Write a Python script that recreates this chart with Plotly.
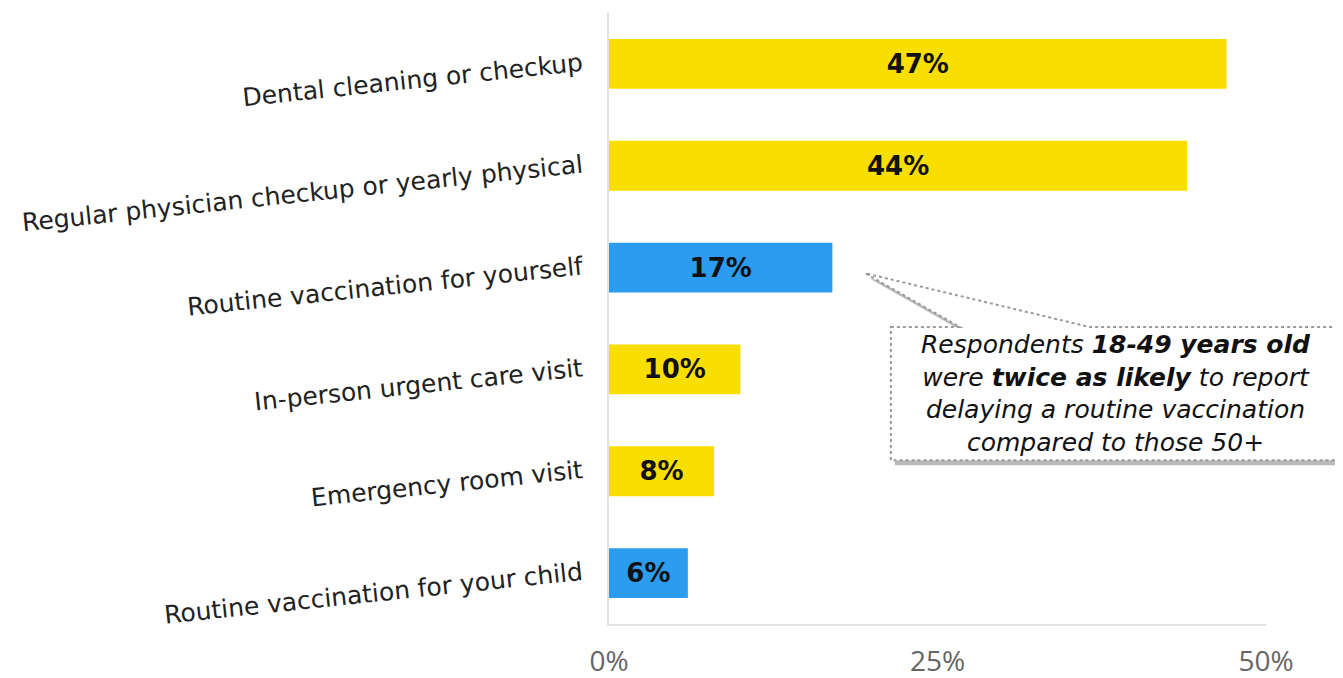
import plotly.graph_objects as go

# categories, top to bottom
categories = ['Dental cleaning or checkup',
              'Regular physician checkup or yearly physical',
              'Routine vaccination for yourself',
              'In-person urgent care visit',
              'Emergency room visit',
              'Routine vaccination for your child']
values = [47, 44, 17, 10, 8, 6]
is_vaccine = [False, False, True, False, False, True]
x_ticks = [0, 25, 50]

YELLOW = '#F9DF00'
BLUE = '#2B9CF0'
FONT = 'DejaVu Sans'

fig = go.Figure()
fig.add_trace(go.Bar(
    y=categories,
    x=values,
    orientation='h',
    marker=dict(color=[BLUE if v else YELLOW for v in is_vaccine], line=dict(width=0)),
    text=[f'<b>{v}%</b>' for v in values],
    textposition='inside',
    insidetextanchor='middle',
    textfont=dict(family=FONT, size=26, color='#111111'),
    width=0.49,
    hoverinfo='skip',
))

# callout box with shadow (paper coords)
tip = (0.39, 0.574)
bx0, bx1, by0, by1 = 0.429, 1.113, 0.268, 0.486
c0, c1 = 0.534, 0.732
dx, dy = 0.006, -0.008

def callout_path(ox=0.0, oy=0.0):
    pts = [(bx0, by1), (c0, by1), tip, (c1, by1), (bx1, by1), (bx1, by0), (bx0, by0)]
    return 'M ' + ' L '.join(f'{x + ox},{y + oy}' for x, y in pts) + ' Z'

fig.add_shape(type='path', xref='paper', yref='paper', path=callout_path(dx, dy),
              fillcolor='rgba(130,130,130,0.55)', line=dict(width=0), layer='above')
fig.add_shape(type='path', xref='paper', yref='paper', path=callout_path(),
              fillcolor='white', line=dict(color='#9a9a9a', width=2, dash='dot'), layer='above')

fig.add_annotation(
    xref='paper', yref='paper', x=0.771, y=(by0 + by1) / 2,
    xanchor='center', yanchor='middle',
    text=('<i>Respondents <b>18-49 years old</b><br>'
          'were <b>twice as likely</b> to report<br>'
          'delaying a routine vaccination<br>'
          'compared to those 50+</i>'),
    showarrow=False, align='center',
    font=dict(family=FONT, size=25, color='#111111'),
)

fig.update_layout(
    width=1335, height=670,
    margin=dict(l=601, r=77, t=5, b=54),
    paper_bgcolor='white', plot_bgcolor='white',
    showlegend=False,
    xaxis=dict(range=[0, 50], tickvals=x_ticks, ticktext=[f'{t}%' for t in x_ticks],
               showgrid=False, zeroline=False, showline=True, linecolor='#e3e3e3', linewidth=1.5,
               ticks='', ticklabelstandoff=12, automargin=False,
               tickfont=dict(family='Open Sans', size=28, color='#666666')),
    yaxis=dict(range=[5.5, -0.5], showgrid=False, zeroline=False, showline=True,
               linecolor='#e3e3e3', linewidth=1.5, ticks='', ticklabelstandoff=20,
               automargin=False, tickangle=-6, ticklabelshift=2,
               tickfont=dict(family=FONT, size=25, color='#222222')),
)

fig.write_html('out.html')
